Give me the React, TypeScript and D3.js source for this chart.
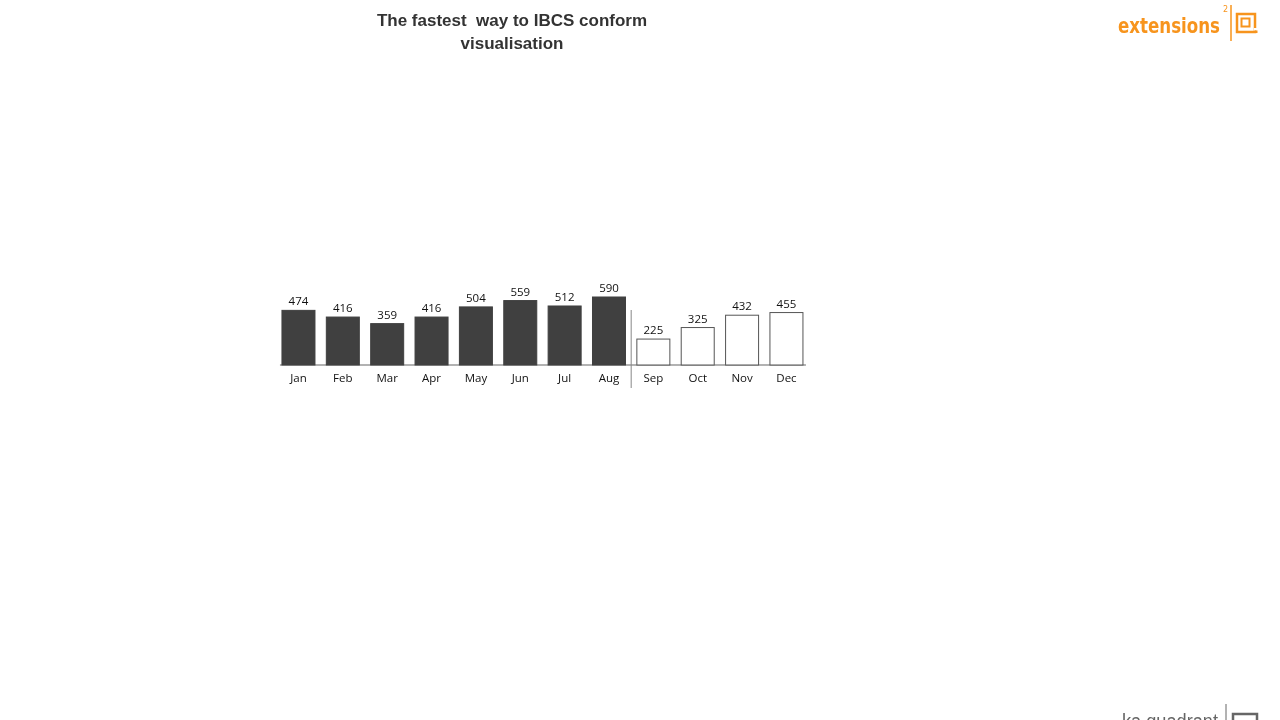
import React, { useEffect, useRef } from 'react';
import * as d3 from 'd3';

const months = ['Jan', 'Feb', 'Mar', 'Apr', 'May', 'Jun', 'Jul', 'Aug', 'Sep', 'Oct', 'Nov', 'Dec'];
const values = [474, 416, 359, 416, 504, 559, 512, 590, 225, 325, 432, 455];
// first 8 months are actuals, the rest forecast
const actualCount = 8;
const titleLines = ['The fastest  way to IBCS conform', 'visualisation'];

const App: React.FC = () => {
    const svgRef = useRef<SVGSVGElement | null>(null);

    useEffect(() => {
        const svg = d3.select(svgRef.current);
        svg.selectAll('*').remove();
        const width = 1280;
        const height = 720;
        svg.attr('width', width).attr('height', height);

        const baseY = 365;
        const xScale = d3.scaleBand().domain(months).range([270.6, 814.3]).padding(0.256);
        const yScale = d3.scaleLinear().domain([0, 590]).range([baseY, 297]);

        // title
        svg.append('text')
            .attr('x', 512)
            .attr('y', 26)
            .attr('text-anchor', 'middle')
            .style('font-family', 'Liberation Sans, Arial, sans-serif')
            .style('font-weight', 'bold')
            .style('font-size', '17px')
            .style('fill', '#333')
            .style('white-space', 'pre')
            .selectAll('tspan')
            .data(titleLines)
            .join('tspan')
            .attr('x', 512)
            .attr('dy', (_d, i) => (i === 0 ? 0 : 23))
            .text((d) => d);

        const g = svg.append('g');

        // baseline
        g.append('line')
            .attr('x1', xScale('Jan')! - 2)
            .attr('x2', xScale('Dec')! + xScale.bandwidth() + 3)
            .attr('y1', baseY)
            .attr('y2', baseY)
            .attr('stroke', '#999')
            .attr('stroke-width', 1.5);

        g.selectAll('rect.bar')
            .data(values)
            .join('rect')
            .attr('class', 'bar')
            .attr('x', (_d, i) => xScale(months[i])!)
            .attr('y', (d) => yScale(d))
            .attr('width', xScale.bandwidth())
            .attr('height', (d) => baseY - yScale(d))
            .attr('fill', (_d, i) => (i < actualCount ? '#404040' : '#fff'))
            .attr('stroke', (_d, i) => (i < actualCount ? '#404040' : '#555'))
            .attr('stroke-width', 1);

        g.selectAll('text.val')
            .data(values)
            .join('text')
            .attr('class', 'val')
            .attr('x', (_d, i) => xScale(months[i])! + xScale.bandwidth() / 2)
            .attr('y', (d) => yScale(d) - 5)
            .attr('text-anchor', 'middle')
            .style('font-family', 'Open Sans, Liberation Sans, sans-serif')
            .style('font-size', '11.5px')
            .style('fill', '#111')
            .text((d) => d);

        const axis = g.append('g')
            .attr('transform', `translate(0, ${baseY})`)
            .call(d3.axisBottom(xScale).tickSize(0).tickPadding(9));
        axis.select('.domain').remove();
        axis.selectAll('text')
            .style('font-family', 'Open Sans, Liberation Sans, sans-serif')
            .style('font-size', '11.5px')
            .style('fill', '#111');

        // separator between actual and forecast
        const sepX = (xScale(months[actualCount - 1])! + xScale.bandwidth() + xScale(months[actualCount])!) / 2;
        g.append('line')
            .attr('x1', sepX)
            .attr('x2', sepX)
            .attr('y1', 310)
            .attr('y2', 388)
            .attr('stroke', '#888')
            .attr('stroke-width', 1);

        // logo top right
        const orange = '#f7941d';
        const logo = svg.append('g').attr('transform', 'translate(1118, 33)');
        logo.append('text')
            .attr('x', 0)
            .attr('y', 0)
            .style('font-family', 'DejaVu Sans Condensed, DejaVu Sans, sans-serif')
            .style('font-weight', 'bold')
            .style('font-size', '21px')
            .style('fill', orange)
            .attr('textLength', 102)
            .attr('lengthAdjust', 'spacingAndGlyphs')
            .text('extensions');
        logo.append('text')
            .attr('x', 105)
            .attr('y', -21)
            .style('font-family', 'DejaVu Sans, sans-serif')
            .style('font-size', '8px')
            .style('fill', orange)
            .text('2');
        logo.append('line')
            .attr('x1', 113).attr('x2', 113).attr('y1', -28).attr('y2', 8)
            .attr('stroke', orange).attr('stroke-width', 1.5);
        logo.append('rect')
            .attr('x', 119).attr('y', -19).attr('width', 18).attr('height', 18)
            .attr('fill', 'none').attr('stroke', orange).attr('stroke-width', 2.5);
        logo.append('rect')
            .attr('x', 123.5).attr('y', -14.5).attr('width', 8).attr('height', 8)
            .attr('fill', 'none').attr('stroke', orange).attr('stroke-width', 2);
        logo.append('rect')
            .attr('x', 136).attr('y', -5).attr('width', 4).attr('height', 2.5)
            .attr('fill', '#fff');
        logo.append('rect')
            .attr('x', 137).attr('y', -2.5).attr('width', 2.5).attr('height', 2.5)
            .attr('fill', orange);

        // footer logo, cut off by the page edge as in the reference
        const foot = svg.append('g').attr('transform', 'translate(1122, 728)');
        foot.append('text')
            .attr('x', 0)
            .attr('y', 0)
            .style('font-family', 'Liberation Sans, sans-serif')
            .style('font-size', '20px')
            .style('fill', '#666')
            .attr('textLength', 96)
            .attr('lengthAdjust', 'spacingAndGlyphs')
            .text('ka quadrant');
        foot.append('line')
            .attr('x1', 104).attr('x2', 104).attr('y1', -24).attr('y2', 0)
            .attr('stroke', '#666').attr('stroke-width', 1);
        foot.append('rect')
            .attr('x', 111).attr('y', -14).attr('width', 24).attr('height', 20)
            .attr('fill', 'none').attr('stroke', '#666').attr('stroke-width', 2.5);
    }, []);

    return <svg ref={svgRef} style={{ position: 'fixed', left: 0, top: 0 }}></svg>;
};

export default App;
